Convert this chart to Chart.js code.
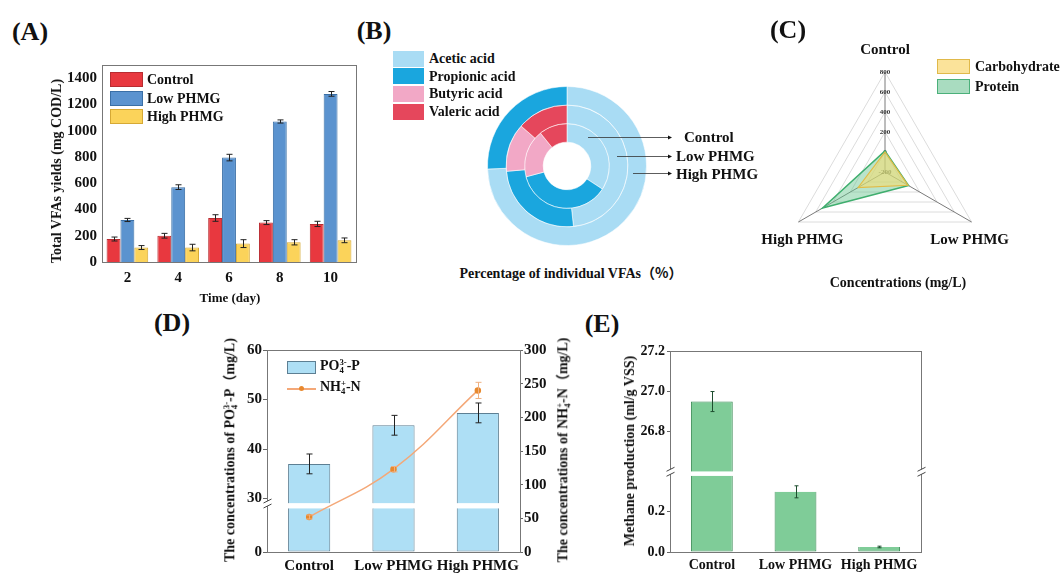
<!DOCTYPE html>
<html><head><meta charset="utf-8">
<script src="https://cdn.jsdelivr.net/npm/chart.js@4.4.1/dist/chart.umd.min.js"></script>
<style>
html,body{margin:0;padding:0;background:#fff;}
#wrap{position:relative;width:1061px;height:577px;overflow:hidden;font-family:'Liberation Serif','Times New Roman','Noto Sans CJK SC',serif;font-weight:bold;color:#111;}
canvas{position:absolute;}
.t{position:absolute;white-space:nowrap;transform:translate(-50%,-50%);line-height:1;}
.l{position:absolute;white-space:nowrap;transform:translate(0,-50%);line-height:1;}
.v{position:absolute;white-space:nowrap;transform:translate(-50%,-50%) rotate(-90deg);line-height:1;}
.box{position:absolute;box-sizing:border-box;}
.pl{font-size:26px;}
.ss{display:inline-block;font-size:0.62em;line-height:0.9;vertical-align:-0.3em;text-align:left;}
.ss span{display:block;}
.cj{font-family:'Noto Sans CJK SC',sans-serif;font-weight:bold;color:#111;}
</style></head>
<body><div id="wrap">
<canvas id="cA" width="300" height="239" style="left:60px;top:51px"></canvas>
<canvas id="cB" width="300" height="180" style="left:470px;top:80px"></canvas>
<canvas id="cC" width="250" height="250" style="left:760px;top:40px"></canvas>
<canvas id="cD" width="315" height="240" style="left:240px;top:340px"></canvas>
<canvas id="cE" width="300" height="239" style="left:630px;top:341px"></canvas>

<div class="t pl" style="left:30px;top:32px">(A)</div>
<div class="t pl" style="left:374px;top:31px">(B)</div>
<div class="t pl" style="left:788px;top:30px">(C)</div>
<div class="t pl" style="left:172px;top:323px">(D)</div>
<div class="t pl" style="left:602px;top:324px">(E)</div>

<!-- A legend & titles -->
<div class="box" style="left:110px;top:72px;width:33px;height:15px;background:#e8383f;border:1px solid #b82c31"></div>
<div class="box" style="left:110px;top:91px;width:33px;height:15px;background:#5b93cf;border:1px solid #3a6fa6"></div>
<div class="box" style="left:110px;top:109px;width:33px;height:15px;background:#fbd35a;border:1px solid #d6a935"></div>
<div class="l" style="left:147px;top:80px;font-size:14px">Control</div>
<div class="l" style="left:147px;top:99px;font-size:14px">Low PHMG</div>
<div class="l" style="left:147px;top:117px;font-size:14px">High PHMG</div>
<div class="v" style="left:57px;top:171px;font-size:14px">Total VFAs yields (mg COD/L)</div>
<div class="t" style="left:230px;top:297px;font-size:13px">Time (day)</div>

<!-- B legend & labels -->
<div class="box" style="left:393px;top:51px;width:31px;height:16px;background:#a9dcf4"></div>
<div class="box" style="left:393px;top:68px;width:31px;height:16px;background:#1aa6de"></div>
<div class="box" style="left:393px;top:86px;width:31px;height:16px;background:#f2a8c6"></div>
<div class="box" style="left:393px;top:104px;width:31px;height:16px;background:#e5475c"></div>
<div class="l" style="left:429px;top:59px;font-size:14px">Acetic acid</div>
<div class="l" style="left:429px;top:77px;font-size:14px">Propionic acid</div>
<div class="l" style="left:429px;top:94px;font-size:14px">Butyric acid</div>
<div class="l" style="left:429px;top:112px;font-size:14px">Valeric acid</div>
<div class="l" style="left:684px;top:137px;font-size:15px">Control</div>
<div class="l" style="left:676px;top:156px;font-size:15px">Low PHMG</div>
<div class="l" style="left:676px;top:174px;font-size:15px">High PHMG</div>
<div class="t" style="left:571px;top:273px;font-size:14px">Percentage of individual VFAs<span class="cj">（%）</span></div>

<!-- C legend & title -->
<div class="box" style="left:937px;top:59px;width:33px;height:15px;background:#fbe39a;border:1.5px solid #e0b94a"></div>
<div class="box" style="left:937px;top:79px;width:33px;height:15px;background:#a9dcc0;border:1.5px solid #4bb07a"></div>
<div class="l" style="left:975px;top:67px;font-size:14px">Carbohydrate</div>
<div class="l" style="left:975px;top:87px;font-size:14px">Protein</div>
<div class="t" style="left:898px;top:283px;font-size:14px">Concentrations (mg/L)</div>

<!-- D legend & titles -->
<div class="box" style="left:287px;top:361px;width:29px;height:13px;background:#aedff5;border:1px solid #5d7f93"></div>
<div class="box" style="left:287px;top:388px;width:29px;height:1.5px;background:#f4a878"></div>
<div class="box" style="left:299px;top:386px;width:5px;height:5px;border-radius:50%;background:#e8892e"></div>
<div class="l" style="left:320px;top:367px;font-size:14px">PO<span class="ss"><span>3-</span><span>4</span></span>-P</div>
<div class="l" style="left:320px;top:388px;font-size:14px">NH<span class="ss"><span>+</span><span>4</span></span>-N</div>
<div class="v" style="left:230px;top:450px;font-size:14px">The concentrations of PO<span class="ss"><span>3-</span><span>4</span></span>-P<span class="cj">（</span>mg/L)</div>
<div class="v" style="left:563px;top:450px;font-size:14px">The concentrations of NH<span class="ss"><span>+</span><span>4</span></span>-N<span class="cj">（</span>mg/L)</div>

<!-- E title -->
<div class="v" style="left:630px;top:451px;font-size:14px">Methane production (ml/g VSS)</div>
</div>

<script>
// ---------- DATA ----------
const A_DAYS = ['2', '4', '6', '8', '10'];
const A_CONTROL = [175, 200, 335, 300, 290];
const A_CONTROL_ERR = [15, 18, 25, 15, 20];
const A_LOW = [320, 570, 795, 1070, 1280];
const A_LOW_ERR = [12, 18, 25, 12, 18];
const A_HIGH = [110, 110, 140, 150, 165];
const A_HIGH_ERR = [15, 25, 30, 20, 18];
const A_Y_TICKS = [0, 200, 400, 600, 800, 1000, 1200, 1400];

const B_ACIDS = ['Acetic acid', 'Propionic acid', 'Butyric acid', 'Valeric acid'];
const B_CONTROL = [34.2, 36.7, 18.3, 10.8];
const B_LOW = [48.3, 25.3, 12.8, 13.6];
const B_HIGH = [74.4, 25.6, 0, 0];

const C_AXES = ['Control', 'Low PHMG', 'High PHMG'];
const C_CARB = [0, 65, 110];
const C_PROT = [10, 72, 520];
const C_TICKS = [-200, 0, 200, 400, 600, 800];

const D_CATS = ['Control', 'Low PHMG', 'High PHMG'];
const D_PO4 = [37, 44.8, 47.3];
const D_PO4_ERR = [2, 2, 2];
const D_NH4 = [52, 123, 240];
const D_NH4_ERR = [3, 4, 12];
const D_LEFT_TICKS = [0, 30, 40, 50, 60];
const D_RIGHT_TICKS = [0, 50, 100, 150, 200, 250, 300];
const D_BREAK = 29;

const E_CATS = ['Control', 'Low PHMG', 'High PHMG'];
const E_CH4 = [26.95, 0.30, 0.025];
const E_CH4_ERR = [0.05, 0.03, 0.004];
const E_LOW_TICKS = [0.0, 0.2];
const E_UP_TICKS = [26.8, 27.0, 27.2];
const E_BREAK_LOW = 0.4;
const E_BREAK_HIGH = 26.6;

// ---------- DEFAULTS ----------
Chart.defaults.font.family = "'Liberation Serif','Times New Roman',serif";
Chart.defaults.font.weight = 'bold';
Chart.defaults.color = '#111';
Chart.defaults.animation = false;
Chart.defaults.events = [];
Chart.defaults.plugins.legend.display = false;
Chart.defaults.plugins.tooltip.enabled = false;

const plainTick = v => String(v);
const catTicks = size => ({font: {size: size}, padding: 5, maxRotation: 0, minRotation: 0, autoSkip: false});

// ---------- PLUGINS ----------
function makeFrame(cfg) {
  return {
    id: 'frame',
    afterDraw(chart) {
      const {ctx, chartArea: a} = chart;
      ctx.save();
      ctx.strokeStyle = cfg.color || '#777';
      ctx.lineWidth = 1;
      const l = Math.round(a.left) + 0.5, t = Math.round(a.top) + 0.5;
      const r = Math.round(a.right) + 0.5, b = Math.round(a.bottom) + 0.5;
      ctx.strokeRect(l, t, r - l, b - t);
      if (cfg.breakAxis) {
        const y = chart.scales[cfg.breakAxis].bottom;
        cfg.sides.forEach(side => {
          const x = side === 'left' ? l : r;
          ctx.fillStyle = '#fff';
          ctx.fillRect(x - 2, y - 2.5, 4, 5);
          ctx.strokeStyle = '#444';
          ctx.beginPath();
          ctx.moveTo(x - 4, y - 0.5); ctx.lineTo(x + 4, y - 4.5);
          ctx.moveTo(x - 4, y + 4.5); ctx.lineTo(x + 4, y + 0.5);
          ctx.stroke();
        });
      }
      ctx.restore();
    }
  };
}
function makeErr(sets) {
  return {
    id: 'err',
    afterDatasetsDraw(chart) {
      const ctx = chart.ctx;
      ctx.save();
      sets.forEach(s => {
        const meta = chart.getDatasetMeta(s.dataset);
        ctx.strokeStyle = s.color || '#222';
        ctx.lineWidth = 1;
        s.values.forEach((v, i) => {
          const e = s.errors[i];
          const el = meta.data[i];
          if (e == null || !el) return;
          const scales = s.axes.map(id => chart.scales[id]);
          const sc = scales.find(q => v >= q.min && v <= q.max) || scales[0];
          const x = Math.round(el.x) + 0.5;
          const y1 = sc.getPixelForValue(v + e), y2 = sc.getPixelForValue(v - e);
          ctx.beginPath();
          ctx.moveTo(x, y1); ctx.lineTo(x, y2);
          ctx.moveTo(x - s.cap, y1); ctx.lineTo(x + s.cap, y1);
          ctx.moveTo(x - s.cap, y2); ctx.lineTo(x + s.cap, y2);
          ctx.stroke();
        });
      });
      ctx.restore();
    }
  };
}

// ---------- A ----------
new Chart(document.getElementById('cA'), {
  type: 'bar',
  data: {
    labels: A_DAYS,
    datasets: [
      {data: A_CONTROL, backgroundColor: '#e8383f', borderColor: '#b82c31', borderWidth: 1},
      {data: A_LOW, backgroundColor: '#5b93cf', borderColor: '#3a6fa6', borderWidth: 1},
      {data: A_HIGH, backgroundColor: '#fbd35a', borderColor: '#d6a935', borderWidth: 1}
    ]
  },
  options: {
    responsive: false,
    layout: {padding: {top: 10, right: 4, left: 0, bottom: 0}},
    datasets: {bar: {categoryPercentage: 0.82, barPercentage: 1}},
    scales: {
      x: {grid: {display: false, drawTicks: false}, border: {display: false},
          ticks: Object.assign(catTicks(15), {padding: 7}), afterFit(s) { s.height = 28; }},
      y: {min: 0, max: 1500,
          afterBuildTicks(s) { s.ticks = A_Y_TICKS.map(v => ({value: v})); },
          grid: {display: false, drawTicks: false}, border: {display: false},
          ticks: {font: {size: 15}, padding: 5, callback: plainTick}, afterFit(s) { s.width = 42; }}
    }
  },
  plugins: [makeFrame({color: '#777'}), makeErr([
    {dataset: 0, values: A_CONTROL, errors: A_CONTROL_ERR, axes: ['y'], cap: 3},
    {dataset: 1, values: A_LOW, errors: A_LOW_ERR, axes: ['y'], cap: 3},
    {dataset: 2, values: A_HIGH, errors: A_HIGH_ERR, axes: ['y'], cap: 3}
  ])]
});

// ---------- B ----------
const B_COLORS = ['#a9dcf4', '#1aa6de', '#f2a8c6', '#e5475c'];
const arrowPlugin = {
  id: 'arrows',
  afterDraw(chart) {
    const arc = chart.getDatasetMeta(0).data[0];
    const cx = arc.x, cy = arc.y, ctx = chart.ctx;
    const items = [[21, -29], [50, -10], [66, 7]];
    const endX = 202;
    ctx.save();
    ctx.strokeStyle = '#333'; ctx.fillStyle = '#111'; ctx.lineWidth = 0.8;
    items.forEach(([dx, dy]) => {
      const y = Math.round(cy + dy) + 0.5;
      ctx.beginPath(); ctx.moveTo(cx + dx, y); ctx.lineTo(endX - 3, y); ctx.stroke();
      ctx.beginPath(); ctx.moveTo(endX, y); ctx.lineTo(endX - 4, y - 2); ctx.lineTo(endX - 4, y + 2); ctx.closePath(); ctx.fill();
    });
    ctx.restore();
  }
};
new Chart(document.getElementById('cB'), {
  type: 'doughnut',
  data: {
    labels: B_ACIDS,
    datasets: [
      {data: B_HIGH, backgroundColor: B_COLORS},
      {data: B_LOW, backgroundColor: B_COLORS},
      {data: B_CONTROL, backgroundColor: B_COLORS}
    ]
  },
  options: {
    responsive: false,
    cutout: '30%',
    rotation: 0,
    layout: {padding: {left: 17, top: 6, right: 123, bottom: 14}},
    datasets: {doughnut: {borderWidth: 1, borderColor: 'rgba(255,255,255,0.55)'}}
  },
  plugins: [arrowPlugin]
});

// ---------- C ----------
const radarLabels = {
  id: 'rl',
  afterDraw(chart) {
    const r = chart.scales.r, ctx = chart.ctx;
    const off = [[0, -22], [-2, 18], [4, 18]];
    ctx.save();
    ctx.font = "bold 15px 'Liberation Serif','Times New Roman',serif";
    ctx.textAlign = 'center'; ctx.textBaseline = 'middle'; ctx.fillStyle = '#111';
    C_AXES.forEach((lab, i) => {
      const p = r.getPointPosition(i, r.drawingArea);
      ctx.fillText(lab, p.x + off[i][0], p.y + off[i][1]);
    });
    ctx.restore();
  }
};
new Chart(document.getElementById('cC'), {
  type: 'radar',
  data: {
    labels: C_AXES,
    datasets: [
      {label: 'Carbohydrate', data: C_CARB, backgroundColor: 'rgba(250,222,110,0.55)', borderColor: '#e2bb45', borderWidth: 1.2, pointRadius: 0},
      {label: 'Protein', data: C_PROT, backgroundColor: 'rgba(100,195,140,0.45)', borderColor: '#3fae6e', borderWidth: 1.5, pointRadius: 0}
    ]
  },
  options: {
    responsive: false,
    layout: {padding: {left: 19, top: 26, right: 19, bottom: 12}},
    scales: {
      r: {
        min: -200, max: 800,
        afterBuildTicks(s) { s.ticks = C_TICKS.map(v => ({value: v})); },
        grid: {color: '#dcdcdc'},
        angleLines: {color: '#7a7a7a', lineWidth: 1},
        pointLabels: {display: false},
        ticks: {font: {size: 7}, showLabelBackdrop: false, color: '#333', callback: plainTick}
      }
    }
  },
  plugins: [radarLabels]
});

// ---------- D ----------
const D_UP_PART = D_PO4.map(v => v > D_BREAK ? [D_BREAK, v] : null);
const D_LOW_PART = D_PO4.map(v => Math.min(v, D_BREAK * 0.9));
const dAxisCommon = {
  grid: {display: true, drawOnChartArea: false, drawTicks: true, tickLength: 4, color: '#666'},
  border: {display: false},
  ticks: {font: {size: 15}, padding: 1, callback: plainTick},
  afterFit(s) { s.width = 27; }
};
new Chart(document.getElementById('cD'), {
  data: {
    labels: D_CATS,
    datasets: [
      {type: 'line', data: D_NH4, yAxisID: 'y2', borderColor: '#f4a878', borderWidth: 1.5, tension: 0.4,
       pointRadius: 2.5, pointBackgroundColor: '#e8892e', pointBorderColor: '#e8892e', order: 0},
      {type: 'bar', data: D_UP_PART, yAxisID: 'yUp', grouped: false, backgroundColor: '#aedff5',
       borderColor: '#5d7f93', borderWidth: 1, borderSkipped: 'start', categoryPercentage: 1, barPercentage: 0.5, order: 1},
      {type: 'bar', data: D_LOW_PART, yAxisID: 'yLow', grouped: false, backgroundColor: '#aedff5',
       borderColor: '#5d7f93', borderWidth: 1, borderSkipped: 'end', categoryPercentage: 1, barPercentage: 0.5, order: 1}
    ]
  },
  options: {
    responsive: false,
    layout: {padding: {top: 10, right: 0, left: 0, bottom: 0}},
    scales: {
      x: {type: 'category', offset: true, grid: {display: false, drawTicks: false}, border: {display: false},
          ticks: catTicks(15), afterFit(s) { s.height = 28; }},
      yLow: Object.assign({}, dAxisCommon, {type: 'linear', position: 'left', stack: 'left', stackWeight: 48, weight: 1,
          min: 0, max: D_BREAK,
          afterBuildTicks(s) { s.ticks = D_LEFT_TICKS.filter(v => v < D_BREAK).map(v => ({value: v})); }}),
      yUp: Object.assign({}, dAxisCommon, {type: 'linear', position: 'left', stack: 'left', stackWeight: 152, weight: 2,
          min: D_BREAK, max: 60,
          afterBuildTicks(s) { s.ticks = D_LEFT_TICKS.filter(v => v >= D_BREAK).map(v => ({value: v})); }}),
      y2: {type: 'linear', position: 'right', min: 0, max: 300,
          afterBuildTicks(s) { s.ticks = D_RIGHT_TICKS.map(v => ({value: v})); },
          grid: {display: true, drawOnChartArea: false, drawTicks: true, tickLength: 3, color: '#666'},
          border: {display: false},
          ticks: {font: {size: 15}, padding: 1, callback: plainTick},
          afterFit(s) { s.width = 35; }}
    }
  },
  plugins: [makeFrame({color: '#777', breakAxis: 'yUp', sides: ['left']}), makeErr([
    {dataset: 2, values: D_PO4, errors: D_PO4_ERR, axes: ['yUp', 'yLow'], cap: 3, color: '#222'},
    {dataset: 0, values: D_NH4, errors: D_NH4_ERR, axes: ['y2'], cap: 3, color: '#f0b080'}
  ])]
});

// ---------- E ----------
const E_UP_PART = E_CH4.map(v => v > E_BREAK_HIGH ? [E_BREAK_HIGH, v] : null);
const E_LOW_PART = E_CH4.map(v => Math.min(v, E_BREAK_LOW * 0.95));
const eAxisCommon = {
  grid: {display: true, drawOnChartArea: false, drawTicks: true, tickLength: 3, color: '#666'},
  border: {display: false},
  ticks: {font: {size: 14}, padding: 2, callback: v => Number(v).toFixed(1)},
  afterFit(s) { s.width = 40; }
};
new Chart(document.getElementById('cE'), {
  type: 'bar',
  data: {
    labels: E_CATS,
    datasets: [
      {data: E_UP_PART, yAxisID: 'yUp', grouped: false, backgroundColor: '#7fcc98', borderColor: '#3a8a55',
       borderWidth: 1, borderSkipped: 'start', categoryPercentage: 1, barPercentage: 0.5},
      {data: E_LOW_PART, yAxisID: 'yLow', grouped: false, backgroundColor: '#7fcc98', borderColor: '#3a8a55',
       borderWidth: 1, borderSkipped: 'end', categoryPercentage: 1, barPercentage: 0.5}
    ]
  },
  options: {
    responsive: false,
    layout: {padding: {top: 10, right: 9, left: 0, bottom: 0}},
    scales: {
      x: {grid: {display: false, drawTicks: false}, border: {display: false},
          ticks: catTicks(14), afterFit(s) { s.height = 28; }},
      yLow: Object.assign({}, eAxisCommon, {type: 'linear', position: 'left', stack: 'left', stackWeight: 80, weight: 1,
          min: 0, max: E_BREAK_LOW,
          afterBuildTicks(s) { s.ticks = E_LOW_TICKS.map(v => ({value: v})); }}),
      yUp: Object.assign({}, eAxisCommon, {type: 'linear', position: 'left', stack: 'left', stackWeight: 120, weight: 2,
          min: E_BREAK_HIGH, max: 27.2,
          afterBuildTicks(s) { s.ticks = E_UP_TICKS.map(v => ({value: v})); }})
    }
  },
  plugins: [makeFrame({color: '#777', breakAxis: 'yUp', sides: ['left', 'right']}), makeErr([
    {dataset: 1, values: E_CH4, errors: E_CH4_ERR, axes: ['yUp', 'yLow'], cap: 2, color: '#1d4d2e'}
  ])]
});
</script>
</body></html>
